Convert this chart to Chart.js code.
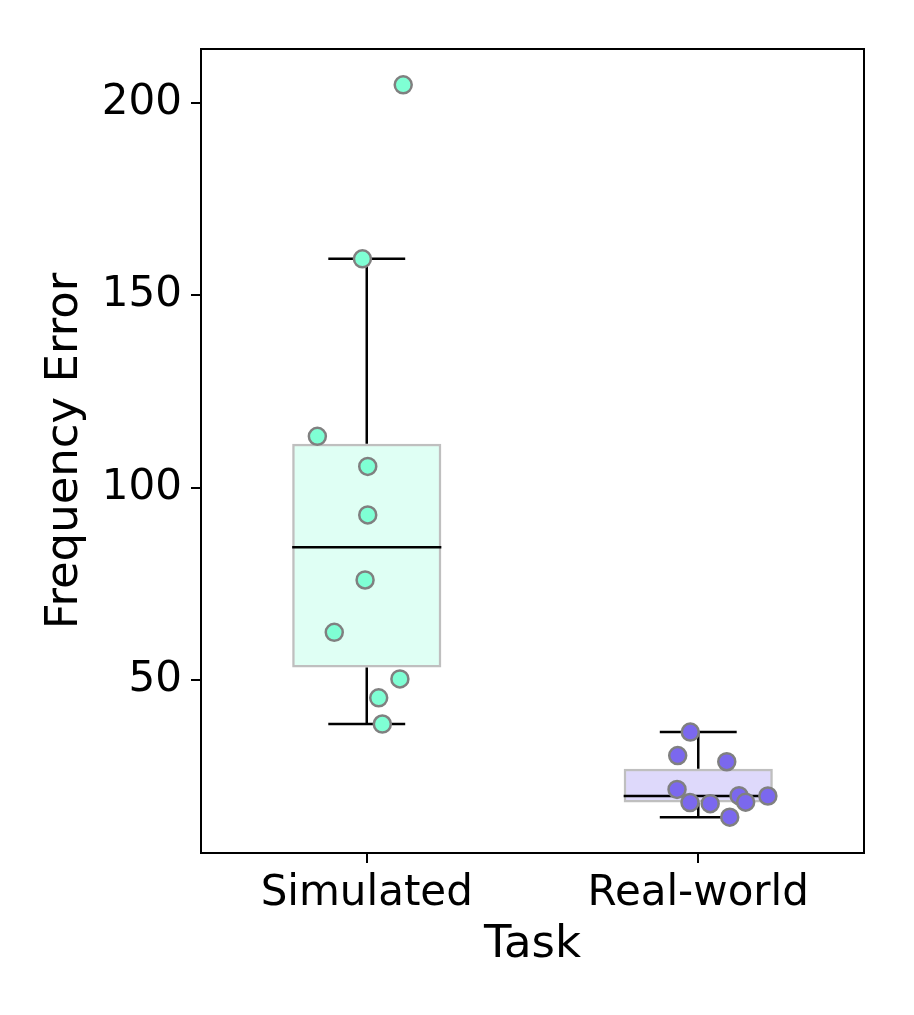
<!DOCTYPE html>
<html><head><meta charset="utf-8">
<script src="https://cdn.jsdelivr.net/npm/chart.js@4.4.1/dist/chart.umd.min.js"></script>
<style>html,body{margin:0;padding:0;background:#fff}#wrap{width:914px;height:1015px;position:relative}</style>
</head><body><div id="wrap"><canvas id="c"></canvas></div>
<script>
// ---- data ----
const categories = ['Simulated', 'Real-world'];
const simulatedValues = [204.7, 159.5, 113.4, 105.6, 93.0, 76.1, 62.5, 50.4, 45.5, 38.7];
const simulatedJitter = [0.110, -0.013, -0.149, 0.003, 0.003, -0.005, -0.098, 0.100, 0.036, 0.047];
const realValues = [36.6, 30.5, 28.9, 21.7, 18.3, 18.0, 20.1, 18.4, 20.0, 14.5];
const realJitter = [-0.024, -0.062, 0.086, -0.064, -0.025, 0.036, 0.123, 0.143, 0.210, 0.095];
const q1 = [53.4, 18.3];
const medians = [84.6, 20.0];
const q3 = [111.5, 27.1];
const whiskerLow = [38.7, 14.5];
const whiskerHigh = [159.5, 36.6];
const yTicks = [50, 100, 150, 200];
const xLabel = 'Task';
const yLabel = 'Frequency Error';

// ---- styling ----
const pointColors = ['#7fffd4', '#7b68ee'];
const boxColors = ['rgba(127,255,212,0.25)', 'rgba(123,104,238,0.25)'];
const BOX_HALF = 0.225, CAP_HALF = 0.116;
const TICK_FONT = {family: '"DejaVu Sans", sans-serif', size: 42};
const TITLE_FONT = {family: '"DejaVu Sans", sans-serif', size: 45};

const boxData = categories.map((c, i) => ({x: i, y: [q1[i], q3[i]]}));
const whiskerData = [];
const medianData = [];
categories.forEach((c, i) => {
  whiskerData.push(
    {x: i, y: q3[i]}, {x: i, y: whiskerHigh[i]}, {x: i, y: null},
    {x: i - CAP_HALF, y: whiskerHigh[i]}, {x: i + CAP_HALF, y: whiskerHigh[i]}, {x: i, y: null},
    {x: i, y: q1[i]}, {x: i, y: whiskerLow[i]}, {x: i, y: null},
    {x: i - CAP_HALF, y: whiskerLow[i]}, {x: i + CAP_HALF, y: whiskerLow[i]}, {x: i, y: null}
  );
  medianData.push({x: i - BOX_HALF, y: medians[i]}, {x: i + BOX_HALF, y: medians[i]}, {x: i, y: null});
});
const simPoints = simulatedValues.map((v, k) => ({x: 0 + simulatedJitter[k], y: v}));
const realPoints = realValues.map((v, k) => ({x: 1 + realJitter[k], y: v}));

const framePlugin = {
  id: 'frame',
  afterDraw(chart) {
    const {ctx, chartArea: a} = chart;
    ctx.save();
    ctx.strokeStyle = '#000';
    ctx.lineWidth = 2;
    ctx.strokeRect(a.left, a.top, a.right - a.left, a.bottom - a.top);
    ctx.restore();
  }
};

new Chart(document.getElementById('c'), {
  type: 'bar',
  data: {
    datasets: [
      {type: 'scatter', data: simPoints, order: 0, pointRadius: 8.5, pointBorderWidth: 2.5,
       pointBackgroundColor: pointColors[0], pointBorderColor: '#808080'},
      {type: 'scatter', data: realPoints, order: 0, pointRadius: 8.5, pointBorderWidth: 2.5,
       pointBackgroundColor: pointColors[1], pointBorderColor: '#808080'},
      {type: 'line', data: medianData, order: 1, borderColor: '#000', borderWidth: 2.5,
       pointRadius: 0, spanGaps: false, fill: false},
      {type: 'line', data: whiskerData, order: 2, borderColor: '#000', borderWidth: 2.5,
       pointRadius: 0, spanGaps: false, fill: false},
      {type: 'bar', data: boxData, order: 3, backgroundColor: boxColors, borderColor: '#bfbfbf',
       borderWidth: 2.5, borderSkipped: false, barPercentage: BOX_HALF * 2, categoryPercentage: 1}
    ]
  },
  options: {
    responsive: true,
    maintainAspectRatio: false,
    animation: false,
    devicePixelRatio: 1,
    layout: {padding: {top: 49, right: 50, left: 0, bottom: 0}},
    plugins: {legend: {display: false}, tooltip: {enabled: false}},
    scales: {
      x: {
        type: 'linear', min: -0.5, max: 1.5, offset: false,
        afterBuildTicks: (ax) => { ax.ticks = categories.map((c, i) => ({value: i})); },
        afterFit: (ax) => { ax.height = 162; },
        ticks: {callback: (v) => categories[v], color: '#000', font: TICK_FONT, padding: 6, maxRotation: 0, autoSkip: false},
        grid: {drawOnChartArea: false, drawTicks: true, tickLength: 10, tickColor: '#000', lineWidth: 2, offset: false},
        border: {display: false},
        title: {display: true, text: xLabel, color: '#000', font: TITLE_FONT, padding: {top: 0, bottom: 43}}
      },
      y: {
        type: 'linear', min: 5.2, max: 214, beginAtZero: false,
        afterBuildTicks: (ax) => { ax.ticks = yTicks.map(v => ({value: v})); },
        afterFit: (ax) => { ax.width = 201; },
        ticks: {color: '#000', font: TICK_FONT, padding: 9},
        grid: {drawOnChartArea: false, drawTicks: true, tickLength: 10, tickColor: '#000', lineWidth: 2},
        border: {display: false},
        title: {display: true, text: yLabel, color: '#000', font: TITLE_FONT, padding: {top: 38, bottom: 0}}
      }
    }
  },
  plugins: [framePlugin]
});
</script>
</body></html>
